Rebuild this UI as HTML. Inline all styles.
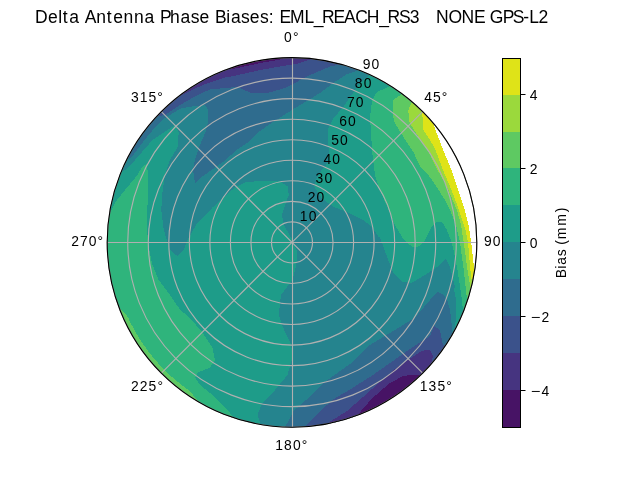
<!DOCTYPE html><html><head><meta charset="utf-8"><style>html,body{margin:0;padding:0;background:#fff;overflow:hidden}svg{display:block;will-change:transform}text{font-family:"Liberation Sans",sans-serif;fill:#000;white-space:pre}</style></head><body>
<svg width="640" height="480" viewBox="0 0 640 480">
<rect width="640" height="480" fill="#fff"/>
<defs><clipPath id="pc"><circle cx="292.0" cy="242.4" r="184.8"/></clipPath></defs>
<g clip-path="url(#pc)" shape-rendering="crispEdges">
<circle cx="292.0" cy="242.4" r="186.8" fill="#25848e"/>
<path d="M262 440 L260 423 L257.5 415 L262.5 402.5 L275 390 L287.5 375 L292.5 357.5 L291.25 345 L285 332.5 L278.75 315 L281 295 L287 287 L292.5 280 L296.25 265 L297.5 252.5 L292.5 240 L283.75 225 L282 215 L285 205 L288.75 195 L287.5 186.25 L280 181.25 L262.5 180.5 L245 182.5 L235 187.5 L225 196 L212.5 207.5 L197.5 222.5 L187.5 240 L183.75 250 L177.5 256.25 L170 250 L163.75 230 L161.25 210 L162.5 192.5 L165 175 L170 160 L177.5 147.5 L178.75 132.5 L175 125 L152.5 140 L135 160 L125 170 L114 176 L100 180 L90 185 L60 300 L100 480 L262 480Z" fill="#1e9c89"/>
<path d="M380 60 L370 75 L360 82.7 L352 94.3 L344 106 L333 119 L327.5 130 L327.5 140 L329.2 151.7 L327.5 163.3 L321.7 170 L316.7 178.3 L314.2 186.7 L321.7 198.3 L333.3 206.7 L350 213.3 L363.3 220 L371.7 226.7 L378.3 236.7 L380 237.5 L386 254 L393 272.6 L402 281.7 L411.3 283 L425 275 L438.8 265.7 L445.7 258.8 L450.3 268 L454.9 286.3 L454 290 L456.25 300 L456.25 311 L455 330 L480 335 L520 200 L480 60Z" fill="#1e9c89"/>
<path d="M100 215 L110 212.5 L115 202.5 L125 190 L137.5 175 L142 167 L147 164 L148 175 L147.5 205 L147 230 L148.7 246.7 L152 263.3 L158.7 280 L168.7 293.3 L180.3 310 L190 318 L202.5 332.5 L212.5 347.5 L215 360 L210 367.5 L197.5 372.5 L195 377.5 L200 385 L210 393 L220 403 L230 413 L236 420 L200 460 L60 300Z" fill="#2fb47c"/>
<path d="M394 70 L390 86 L386.25 88.1 L376.9 91.9 L371.9 101.25 L370 117.5 L371.25 137.5 L372.5 155 L375 175 L378.75 187.5 L387.5 207.5 L395 225 L404 240 L413 247.5 L420 246 L425 240 L432 226 L436.25 221.9 L442.5 222.5 L446.25 228.75 L451.25 241.25 L453.75 251.25 L457.5 270 L461.25 295 L462.5 306 L470 330 L520 250 L480 60Z" fill="#2fb47c"/>
<path d="M401.7 80 L401.7 94.2 L393.3 100 L392.5 115 L395 123.3 L403.3 136.7 L413.3 151.7 L420 166.25 L427.5 173.75 L436.25 186.25 L445 200 L450 210 L456 225 L460 242.5 L463.75 270 L466 290 L467 300 L470 310 L520 310 L520 80Z" fill="#5ec962"/>
<path d="M119.94 308.45 L122.25 310.9 L124.59 313.29 L126.96 315.62 L128.46 318.31 L129.78 321.08 L131.14 323.83 L132.55 326.56 L134 329.26 L135.5 331.94 L137.05 334.59 L138.64 337.21 L140.28 339.81 L141.96 342.37 L143.68 344.91 L145.44 347.42 L147.25 349.9 L149.1 352.35 L150.99 354.76 L152.93 357.15 L154.9 359.5 L156.91 361.81 L158.96 364.09 L161.05 366.34 L163.18 368.55 L165.35 370.72 L167.55 372.86 L169.79 374.96 L172.06 377.02 L174.37 379.04 L176.71 381.02 L179.08 382.96 L181.49 384.86 L183.93 386.72 L186.4 388.54 L188.91 390.32 L191.02 392.67 L193.08 395.16 L195.2 397.61 L197.37 400.04 L199.6 402.44 L196.6 407.64 L193.8 405.99 L191.03 404.3 L188.29 402.55 L185.58 400.77 L182.9 398.93 L180.26 397.05 L177.64 395.13 L175.06 393.16 L172.51 391.15 L170 389.1 L167.52 387 L165.07 384.86 L162.67 382.68 L160.3 380.46 L157.97 378.2 L155.68 375.9 L153.43 373.56 L151.22 371.18 L149.04 368.77 L146.91 366.31 L144.83 363.83 L142.78 361.31 L140.78 358.75 L138.82 356.16 L136.91 353.54 L135.04 350.88 L133.22 348.2 L131.44 345.48 L129.71 342.73 L128.03 339.95 L126.39 337.15 L124.8 334.32 L123.26 331.46 L121.77 328.58 L120.33 325.67 L118.94 322.73 L117.59 319.78 L116.3 316.8 L115.06 313.8 L113.87 310.78Z" fill="#5ec962"/>
<path d="M411.7 80 L411.7 102.5 L408.3 110 L409.2 121.7 L415.12 131.7 L424.21 145 L430.29 155 L437.5 170 L446.29 185 L452.66 200 L457 210 L461 225 L463.75 242.5 L467.5 270 L470 285 L471 292 L520 292 L520 80Z" fill="#9bd93c"/>
<path d="M421.7 80 L421.7 111.7 L423 120 L423.3 130 L431 141.7 L435.5 150 L443 170 L451.5 190 L459 210 L465 228 L468.1 242.5 L470.3 270 L472 282 L520 282 L520 80Z" fill="#dfe318"/>
<path d="M434.2 80 L434.2 126 L435.92 131.7 L438.86 138.3 L443.12 150 L451.5 170 L458.12 190 L464.7 210 L468.5 225 L471.25 242.5 L473.75 265 L475 273 L520 273 L520 80Z" fill="#ffffff"/>
<path d="M100 150 L129.33 158.69 L134.31 153.74 L146.22 137.87 L156.14 125.98 L164.08 118.54 L180 108.75 L190 106.7 L205 105 L208.3 110 L208.3 121.7 L205 133.3 L200 145 L195 160 L193 170 L195 183 L200 178 L211.7 170 L223.3 161.7 L236.7 150 L250 140.8 L260 131 L273.3 121.8 L291.7 110.2 L308.3 100.2 L321.7 91.8 L335 81.83 L346.7 74.3 L357 71 L365 50 L100 40Z" fill="#2f6c8e"/>
<path d="M285 440 L285 427.5 L293 411.6 L307.2 399 L322.8 383.4 L340 371 L350 364 L370 345 L395 330 L415 317.5 L430 300 L437.5 292 L443.75 295 L447.5 301 L450 310 L451.25 320 L452 330 L453 340 L520 340 L520 480 L285 480Z" fill="#2f6c8e"/>
<path d="M150 110 L158 116 L165 115 L180 105 L197.5 95 L210 89.5 L225 88 L237.5 87 L250 92.5 L267.5 93 L285 88 L291.7 84.8 L306.7 76.5 L318.3 71.5 L330 66.5 L348 63 L350 40 L150 40Z" fill="#3b528b"/>
<path d="M305 440 L305 426 L318 413 L333.75 399 L350.8 389 L371.7 375.8 L392.5 361.25 L413.3 346.7 L430 336 L434 326 L440 330 L443 345 L520 345 L520 480 L305 480Z" fill="#3b528b"/>
<path d="M175 100 L180 96 L190 91 L205 84 L225 77.5 L236 75.5 L251 72 L266 69 L284 65.75 L297.5 63.75 L310 59.5 L320 40 L175 40Z" fill="#463480"/>
<path d="M325 440 L327 426 L330 421.7 L346.7 411.25 L363.3 396.7 L380 382 L396.7 367.5 L409.2 359.2 L421.7 350.8 L430 349.8 L433 356 L431 364 L428 370 L480 420 L325 480Z" fill="#463480"/>
<path d="M205 78 L215 70 L236 68.4 L251 65 L266 62 L278 60.1 L283 58.5 L290 40 L200 40Z" fill="#471365"/>
<path d="M350 425 L355 418 L371.7 398.75 L388.3 384.2 L403 375.8 L417.5 374.8 L423 378 L480 420 L350 480Z" fill="#471365"/>
</g>
<g stroke="#b0b0b0" stroke-width="1.11" fill="none"><line x1="292.5" y1="242.4" x2="292.5" y2="57.6"/><line x1="292" y1="242.4" x2="422.67" y2="111.73"/><line x1="292" y1="242.5" x2="476.8" y2="242.5"/><line x1="292" y1="242.4" x2="422.67" y2="373.07"/><line x1="292.5" y1="242.4" x2="292.5" y2="427.2"/><line x1="292" y1="242.4" x2="161.33" y2="373.07"/><line x1="292" y1="242.5" x2="107.2" y2="242.5"/><line x1="292" y1="242.4" x2="161.33" y2="111.73"/><circle cx="292.0" cy="242.4" r="20.53" fill="none"/><circle cx="292.0" cy="242.4" r="41.07" fill="none"/><circle cx="292.0" cy="242.4" r="61.6" fill="none"/><circle cx="292.0" cy="242.4" r="82.13" fill="none"/><circle cx="292.0" cy="242.4" r="102.67" fill="none"/><circle cx="292.0" cy="242.4" r="123.2" fill="none"/><circle cx="292.0" cy="242.4" r="143.73" fill="none"/><circle cx="292.0" cy="242.4" r="164.27" fill="none"/><circle cx="292.0" cy="242.4" r="184.8" fill="none"/></g>
<circle cx="292.0" cy="242.4" r="184.8" fill="none" stroke="#000" stroke-width="1.11"/>
<text x="284.12 292.95" y="41.99" font-size="13.89">0°</text>
<text x="424.17 433 441.83" y="101.81" font-size="13.89">45°</text>
<text x="483.93 492.76 501.59" y="246.23" font-size="13.89">90°</text>
<text x="419.74 428.56 437.39 446.22" y="390.66" font-size="13.89">135°</text>
<text x="275.25 284.08 292.91 301.73" y="450.48" font-size="13.89">180°</text>
<text x="130.95 139.78 148.61 157.44" y="390.66" font-size="13.89">225°</text>
<text x="71.13 79.96 88.79 97.61" y="246.23" font-size="13.89">270°</text>
<text x="130.89 139.72 148.55 157.37" y="101.81" font-size="13.89">315°</text>
<text x="299.86 308.69" y="220.54" font-size="13.89">10</text>
<text x="307.72 316.54" y="201.57" font-size="13.89">20</text>
<text x="315.57 324.4" y="182.6" font-size="13.89">30</text>
<text x="323.43 332.26" y="163.63" font-size="13.89">40</text>
<text x="331.29 340.12" y="144.66" font-size="13.89">50</text>
<text x="339.15 347.97" y="125.69" font-size="13.89">60</text>
<text x="347 355.83" y="106.72" font-size="13.89">70</text>
<text x="354.86 363.69" y="87.75" font-size="13.89">80</text>
<text x="362.72 371.55" y="68.78" font-size="13.89">90</text>
<text x="35.12 47.93 58.15 62.77 69.29 79.48 84.76 96.14 106.67 113.19 123.42 133.96 144.49 154.68 159.97 169.99 180.53 190.72 199.38 209.61 214.89 226.3 230.92 241.1 249.76 259.99 268.65 274.26 279.54 290.04 304.39 313.65 321.96 333.51 344.02 355.14 366.75 379.25 387.56 399.12 409.67 420.25 425.53 430.81 436.1 448.54 461.62 474.06 484.56 489.85 502.73 512.75 523.31 529.31 538.57" y="22.68" font-size="17.5">Delta Antenna Phase Biases: EML_REACH_RS3   NONE GPS-L2</text>
<rect x="502.2" y="390" width="17.6" height="37" fill="#471365" shape-rendering="crispEdges"/>
<rect x="502.2" y="353" width="17.6" height="37" fill="#463480" shape-rendering="crispEdges"/>
<rect x="502.2" y="316" width="17.6" height="37" fill="#3b528b" shape-rendering="crispEdges"/>
<rect x="502.2" y="279" width="17.6" height="37" fill="#2f6c8e" shape-rendering="crispEdges"/>
<rect x="502.2" y="242" width="17.6" height="37" fill="#25848e" shape-rendering="crispEdges"/>
<rect x="502.2" y="205" width="17.6" height="37" fill="#1e9c89" shape-rendering="crispEdges"/>
<rect x="502.2" y="168" width="17.6" height="37" fill="#2fb47c" shape-rendering="crispEdges"/>
<rect x="502.2" y="132" width="17.6" height="36" fill="#5ec962" shape-rendering="crispEdges"/>
<rect x="502.2" y="95" width="17.6" height="37" fill="#9bd93c" shape-rendering="crispEdges"/>
<rect x="502.2" y="58" width="17.6" height="37" fill="#dfe318" shape-rendering="crispEdges"/>
<rect x="502.5" y="58.5" width="18" height="369" fill="none" stroke="#000" stroke-width="1"/>
<line x1="520.5" y1="390.5" x2="525.5" y2="390.5" stroke="#000" stroke-width="1"/>
<text y="395.52" font-size="13.89"><tspan x="530.7" textLength="9.6" lengthAdjust="spacingAndGlyphs">−</tspan><tspan x="541.43">4</tspan></text>
<line x1="520.5" y1="316.5" x2="525.5" y2="316.5" stroke="#000" stroke-width="1"/>
<text y="321.6" font-size="13.89"><tspan x="530.7" textLength="9.6" lengthAdjust="spacingAndGlyphs">−</tspan><tspan x="541.43">2</tspan></text>
<line x1="520.5" y1="242.5" x2="525.5" y2="242.5" stroke="#000" stroke-width="1"/>
<text x="529.8" y="247.68" font-size="13.89">0</text>
<line x1="520.5" y1="168.5" x2="525.5" y2="168.5" stroke="#000" stroke-width="1"/>
<text x="529.8" y="173.76" font-size="13.89">2</text>
<line x1="520.5" y1="94.5" x2="525.5" y2="94.5" stroke="#000" stroke-width="1"/>
<text x="529.8" y="99.84" font-size="13.89">4</text>
<text x="530.64 540.16 544.01 552.51 559.74 564.15 569.57 583.08 596.6" y="242.4" font-size="13.89" transform="rotate(-90 566.39 242.4)">Bias (mm)</text>
</svg></body></html>
